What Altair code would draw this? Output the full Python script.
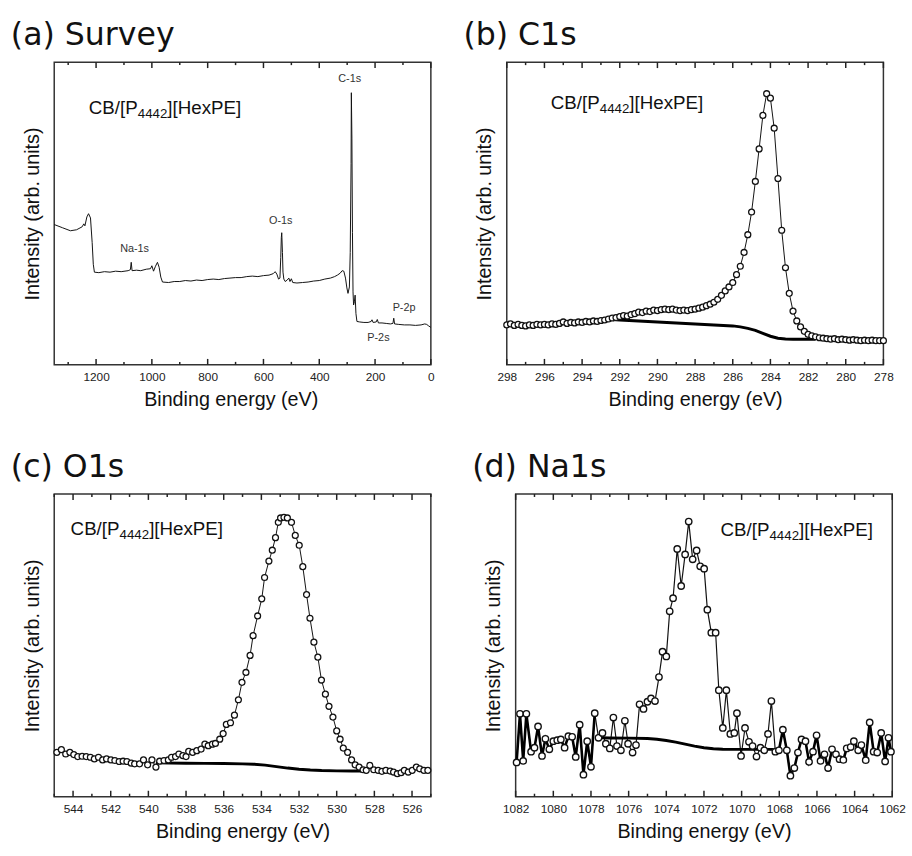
import altair as alt
import pandas as pd

# ---------------- (a) Survey ----------------
survey_energy = [1350, 1320, 1292, 1270, 1250, 1244, 1240, 1233, 1227, 1220, 1214, 1210, 1206,
                 1190, 1170, 1150, 1130, 1110, 1085, 1077, 1074, 1071, 1055, 1040, 1020, 1005,
                 1000, 994, 987, 980, 974, 968, 962, 940, 920, 900, 880, 860, 840, 820, 800,
                 780, 760, 740, 720, 700, 680, 660, 640, 620, 600, 580, 565, 558, 552, 546,
                 541, 538, 536, 534.5, 532, 530, 527, 522, 515, 509, 505, 500, 495, 480, 460,
                 440, 420, 400, 380, 360, 345, 335, 325, 318, 312, 306, 301, 297, 292, 289,
                 286, 285, 283, 281, 279, 277, 274, 271.5, 268.5, 265, 255, 240, 225, 214,
                 211, 207, 196, 192, 188, 175, 160, 145, 136, 133, 130, 115, 95, 75, 55, 35,
                 22, 15, 8, 0]
survey_intensity = [142.3, 139, 136, 137, 140, 143, 141, 150, 153.3, 149, 124, 102, 94,
                    93.5, 94.5, 94, 95, 94.5, 95.5, 96.5, 104, 95.5, 96, 95.5, 97, 97.5,
                    100.5, 95, 100, 104, 99, 89, 84, 83.5, 84.5, 84.5, 85.5, 85, 86, 85.5, 86.5,
                    87, 86.5, 87.5, 88, 88.5, 88.5, 89.5, 90, 89.5, 90.5, 91, 92.5, 94.5, 92, 87,
                    88, 109, 129, 134, 114, 94, 87, 84.5, 86, 88, 84.5, 87.3, 83.5, 83, 83.5,
                    84, 85, 85.5, 87, 88, 89.5, 91, 93, 95.5, 95, 88, 78, 72.5, 79, 114,
                    204, 276, 230, 134, 74, 60.7, 64, 70.7, 52, 44, 43.5, 43, 43, 44,
                    45.7, 43, 43.5, 46, 42.5, 42.5, 42, 41.5, 42, 47.3, 41.5, 41, 40.5, 40.5, 40, 40.5,
                    41.5, 41, 39.5, 38]
survey_peak_labels = ["C-1s", "O-1s", "Na-1s", "P-2p", "P-2s"]
survey_peak_x = [291, 538, 1062, 96, 188]
survey_peak_y = [290, 146, 117, 58, 27]

# ---------------- (b) C1s ----------------
c1s_energy = [298.0, 297.8, 297.6, 297.4, 297.2, 297.0, 296.8, 296.6, 296.4, 296.2,
              296.0, 295.8, 295.6, 295.4, 295.2, 295.0, 294.8, 294.6, 294.4, 294.2,
              294.0, 293.8, 293.6, 293.4, 293.2, 293.0, 292.8, 292.6, 292.4, 292.2,
              292.0, 291.8, 291.6, 291.4, 291.2, 291.0, 290.8, 290.6, 290.4, 290.2,
              290.0, 289.8, 289.6, 289.4, 289.2, 289.0, 288.8, 288.6, 288.4, 288.2,
              288.0, 287.8, 287.6, 287.4, 287.2, 287.0, 286.8, 286.6, 286.4, 286.2,
              286.0, 285.8, 285.6, 285.4, 285.2, 285.0, 284.8, 284.6, 284.4, 284.2,
              284.0, 283.8, 283.6, 283.4, 283.2, 283.0, 282.8, 282.6, 282.4, 282.2,
              282.0, 281.8, 281.6, 281.4, 281.2, 281.0, 280.8, 280.6, 280.4, 280.2,
              280.0, 279.8, 279.6, 279.4, 279.2, 279.0, 278.8, 278.6, 278.4, 278.2, 278.0]
c1s_intensity = [40.5, 41.5, 40.0, 41.0, 40.0, 39.5, 40.5, 40.0, 41.0, 40.5,
                 41.0, 40.5, 41.5, 41.0, 42.0, 43.5, 42.0, 43.0, 42.5, 43.5,
                 43.0, 44.0, 43.5, 44.5, 44.0, 45.0, 45.5, 46.5, 47.5, 48.0,
                 49.0, 50.0, 49.5, 51.0, 52.0, 53.5, 53.0, 54.5, 54.0, 55.5,
                 55.0, 56.0, 56.5, 56.0, 56.5, 55.5, 55.0, 55.5, 55.0, 56.0,
                 56.5, 57.5, 58.5, 60.0, 61.5, 63.5, 66.5, 70.5, 75.0, 79.0,
                 83.5, 91.5, 100.0, 114.0, 132.0, 155.0, 186.0, 219.0, 253.0, 275.0,
                 270.5, 240.0, 189.0, 136.5, 98.5, 72.5, 54.5, 44.5, 38.5, 34.0,
                 31.0, 29.5, 28.5, 27.5, 27.0, 26.5, 26.0, 26.5, 25.5, 26.0,
                 25.5, 25.0, 25.5, 25.0, 24.5, 25.0, 24.5, 25.0, 24.5, 24.5, 24.5]
c1s_bg_energy = [292.4, 292.0, 291.0, 290.0, 289.0, 288.0, 287.0, 286.0, 285.6, 285.2,
                 284.8, 284.4, 284.0, 283.6, 283.2, 282.8, 282.0, 281.6]
c1s_bg_intensity = [46.0, 45.5, 44.5, 43.5, 42.5, 41.5, 40.5, 39.5, 38.5, 37.0,
                    35.0, 32.0, 29.0, 27.0, 26.2, 26.0, 26.0, 26.0]

# ---------------- (c) O1s ----------------
o1s_energy = [544.86, 544.62, 544.39, 544.17, 543.96, 543.75, 543.52, 543.3, 543.08, 542.87,
              542.65, 542.43, 542.22, 541.99, 541.78, 541.55, 541.34, 541.14, 540.91, 540.73,
              540.47, 540.26, 540.04, 539.81, 539.6, 539.4, 539.17, 538.94, 538.77, 538.56,
              538.38, 538.17, 538.0, 537.86, 537.65, 537.43, 537.2, 537.0, 536.82, 536.6,
              536.44, 536.21, 536.03, 535.86, 535.64, 535.43, 535.22, 535.03, 534.82, 534.6,
              534.44, 534.2, 533.98, 533.83, 533.6, 533.42, 533.25, 533.1, 532.98, 532.8,
              532.62, 532.4, 532.2, 531.99, 531.8, 531.6, 531.42, 531.21, 531.0, 530.81,
              530.6, 530.41, 530.2, 530.0, 529.82, 529.65, 529.42, 529.21, 529.02, 528.81,
              528.6, 528.43, 528.24, 528.03, 527.8, 527.6, 527.39, 527.16, 526.98, 526.78,
              526.58, 526.41, 526.2, 525.99, 525.77, 525.59, 525.37, 525.16]
o1s_intensity = [45, 47.7, 43.3, 45, 42.7, 40.7, 41, 40.7, 40, 38.3,
                 40, 37.3, 38.3, 37.3, 36.7, 35.7, 36, 35.7, 34, 33.3,
                 33.3, 37.3, 32.3, 37.3, 30, 36, 36.7, 37.3, 40, 40.7,
                 43.3, 41.7, 40.7, 46, 45, 46.7, 48.3, 53.3, 51.7, 53.3,
                 54, 58.3, 64, 73.3, 75, 82.7, 98.3, 116, 126, 143.3,
                 163.3, 183.3, 200.7, 222.3, 239, 250, 262.7, 278.3, 282.7, 283.3,
                 282.7, 278.3, 265, 255, 233.3, 205, 181, 156.7, 141.5, 118.3,
                 104, 91.7, 80.7, 66.7, 58.3, 49.3, 45, 37.3, 32.3, 30,
                 27.3, 26.7, 31.7, 27.3, 26.7, 25.7, 26.7, 26, 25, 23.3,
                 24.3, 26.7, 25, 26.7, 30, 28.3, 26.7, 26.7]
o1s_bg_energy = [539.6, 538.0, 537.0, 536.0, 535.0, 534.4, 533.8, 533.2, 532.6, 532.0,
                 531.4, 530.8, 530.0, 529.2, 528.7]
o1s_bg_intensity = [34.3, 34.0, 33.8, 33.6, 33.3, 33.0, 32.0, 30.5, 29.0, 27.8,
                    27.0, 26.5, 26.2, 26.0, 26.0]

# ---------------- (d) Na1s ----------------
na1s_energy = [1081.95, 1081.77, 1081.6, 1081.43, 1081.18, 1081.0, 1080.81, 1080.6, 1080.42, 1080.21,
               1080.0, 1079.79, 1079.6, 1079.4, 1079.2, 1079.0, 1078.81, 1078.6, 1078.4, 1078.2,
               1078.0, 1077.8, 1077.6, 1077.39, 1077.21, 1077.0, 1076.81, 1076.62, 1076.41, 1076.2,
               1076.03, 1075.79, 1075.61, 1075.42, 1075.21, 1075.0, 1074.81, 1074.6, 1074.39, 1074.2,
               1074.0, 1073.82, 1073.64, 1073.42, 1073.21, 1073.0, 1072.81, 1072.6, 1072.39, 1072.2,
               1071.99, 1071.82, 1071.61, 1071.38, 1071.21, 1071.0, 1070.81, 1070.6, 1070.39, 1070.25,
               1070.03, 1069.82, 1069.61, 1069.42, 1069.21, 1069.0, 1068.8, 1068.6, 1068.42, 1068.21,
               1068.02, 1067.81, 1067.6, 1067.41, 1067.2, 1067.01, 1066.82, 1066.61, 1066.42, 1066.21,
               1066.02, 1065.81, 1065.6, 1065.41, 1065.2, 1064.99, 1064.8, 1064.6, 1064.42, 1064.21,
               1064.04, 1063.81, 1063.64, 1063.41, 1063.2, 1062.99, 1062.8, 1062.59, 1062.38, 1062.2,
               1062.07]
na1s_intensity = [34.7, 84, 36.3, 84, 45.7, 49.7, 71.3, 41.3, 58.7, 48,
                  56.3, 57.3, 58, 49.7, 61.3, 60.7, 40.3, 73, 22.3, 56.3,
                  30.3, 84.7, 59.7, 64.7, 53.7, 49, 80.3, 51.3, 47, 77,
                  53.7, 44.7, 52.3, 93.7, 89, 96.3, 99.7, 97, 121.3, 147,
                  142.3, 188, 201.3, 251.3, 213.7, 245.7, 279, 240.7, 249.7, 233.7,
                  231.3, 189.7, 166.3, 166.3, 108, 69.7, 108, 63.7, 64.7, 84.7,
                  41.3, 69.7, 55.7, 51.3, 40.7, 49.7, 47, 63.7, 97, 45.7,
                  47, 68, 47, 21.3, 29, 44.7, 58, 56.3, 35.3, 45.7,
                  62.3, 36.3, 43, 29, 48, 43, 38, 37.3, 49, 50.3,
                  56.3, 47, 52.3, 37, 75.3, 45.7, 44.7, 64.7, 35.7, 59.7,
                  45.7]
na1s_bg_energy = [1077.5, 1077.0, 1076.0, 1075.0, 1074.5, 1074.0, 1073.5, 1073.0, 1072.5, 1072.0,
                  1071.5, 1071.0, 1070.0, 1069.0, 1068.3]
na1s_bg_intensity = [59.7, 59.6, 59.4, 59.0, 58.3, 57.0, 55.3, 53.3, 51.3, 49.7,
                     48.6, 48.1, 48.0, 48.0, 48.0]

# sample label pieces: main text, subscript, main text
label_parts = ["CB/[P", "4442", "][HexPE]"]

W, H = 382, 307
YMAX = 307
LABEL_FONT = "Liberation Sans"
MAIN_FS, SUB_FS = 19, 13.5
MAJOR_LEN, MINOR_LEN = 6, 3


def tick_frame(major, minor):
    """Start/end of the inward frame ticks, expressed in y-scale units (1 unit = 1 px)."""
    rows = []
    for vals, length in [(major, MAJOR_LEN), (minor, MINOR_LEN)]:
        for v in vals:
            rows.append({"E": v, "t0": YMAX, "t1": YMAX - length})
            rows.append({"E": v, "t0": 0, "t1": length})
    return pd.DataFrame(rows)


def panel(title, dom, label_vals, minor_vals, main_layers, title_x=None):
    extra = {"titleX": title_x} if title_x is not None else {}
    xaxis = alt.Axis(orient="bottom", values=label_vals, format="d", labelOverlap=False,
                     labelFlush=False, ticks=False, domain=False, grid=False,
                     labelFontSize=12, labelFont=LABEL_FONT, labelColor="#222", labelPadding=7,
                     title="Binding energy (eV)", titleFontSize=20, titleFont=LABEL_FONT,
                     titleFontWeight="normal", titleColor="#111", titlePadding=7, **extra)
    yaxis = alt.Axis(title="Intensity (arb. units)", labels=False, ticks=False, domain=False,
                     grid=False, titleFontSize=20, titleFont=LABEL_FONT, titleFontWeight="normal",
                     titleColor="#111", titlePadding=12)
    scale = alt.Scale(domain=dom, reverse=True, nice=False, zero=False)
    yscale = alt.Scale(domain=[0, YMAX], nice=False, zero=False)
    xs = alt.X("E:Q", scale=scale, axis=xaxis)
    ys = alt.Y("I:Q", scale=yscale, axis=yaxis)
    layers = [layer.encode(x=xs, y=ys) for layer in main_layers]
    ticks = alt.Chart(tick_frame(label_vals, minor_vals)).mark_rule(
        color="#222", strokeWidth=1.5, orient="vertical").encode(
        x=alt.X("E:Q", scale=scale, axis=xaxis),
        y=alt.Y("t0:Q", scale=yscale, axis=yaxis),
        y2="t1:Q",
    )
    layers.append(ticks)
    return alt.layer(*layers).properties(
        width=W, height=H,
        title=alt.TitleParams(text=title, anchor="start", font="DejaVu Sans", fontSize=32,
                              fontWeight="normal", color="#111", offset=10, frame="bounds", dx=-12)
    )


def spectrum_layers(df, bg, size=36):
    line = alt.Chart(df).mark_line(color="#111", strokeWidth=1.0)
    pts = alt.Chart(df).mark_point(shape="circle", filled=True, fill="white", stroke="#111",
                                   strokeWidth=1.3, size=size, opacity=1)
    bgl = alt.Chart(bg).mark_line(color="#000", strokeWidth=3)
    return [line, bgl, pts]


def label_layers(x, y):
    d = pd.DataFrame({"E": [x], "I": [y]})
    w0 = 2.612 * MAIN_FS          # width of "CB/[P"
    w1 = 4 * 0.556 * SUB_FS       # width of subscript "4442"
    common = dict(align="left", baseline="alphabetic", font=LABEL_FONT, color="#111")
    return [
        alt.Chart(d).mark_text(fontSize=MAIN_FS, dy=5, text=label_parts[0], **common),
        alt.Chart(d).mark_text(fontSize=SUB_FS, dx=w0, dy=9, text=label_parts[1], **common),
        alt.Chart(d).mark_text(fontSize=MAIN_FS, dx=w0 + w1, dy=5, text=label_parts[2], **common),
    ]


# (a)
df_a = pd.DataFrame({"E": survey_energy, "I": survey_intensity})
df_a_lab = pd.DataFrame({"E": survey_peak_x, "I": survey_peak_y, "t": survey_peak_labels})
a_layers = [
    alt.Chart(df_a).mark_line(color="#111", strokeWidth=1.0),
    alt.Chart(df_a_lab).mark_text(fontSize=11, font=LABEL_FONT, color="#333").encode(text="t:N"),
] + label_layers(1226, 259)
pa = panel("(a) Survey", [0, 1350], list(range(0, 1201, 200)), list(range(100, 1301, 200)),
           a_layers, title_x=W / 2 - 12)

# (b)
df_b = pd.DataFrame({"E": c1s_energy, "I": c1s_intensity})
bg_b = pd.DataFrame({"E": c1s_bg_energy, "I": c1s_bg_intensity})
pb = panel("(b) C1s", [278, 298], list(range(278, 299, 2)), list(range(279, 298, 2)),
           spectrum_layers(df_b, bg_b) + label_layers(295.66, 264.7))

# (c)
df_c = pd.DataFrame({"E": o1s_energy, "I": o1s_intensity})
bg_c = pd.DataFrame({"E": o1s_bg_energy, "I": o1s_bg_intensity})
pc = panel("(c) O1s", [525, 545], list(range(526, 545, 2)), list(range(525, 546, 2)),
           spectrum_layers(df_c, bg_c) + label_layers(544.13, 270))

# (d)
df_d = pd.DataFrame({"E": na1s_energy, "I": na1s_intensity})
bg_d = pd.DataFrame({"E": na1s_bg_energy, "I": na1s_bg_intensity})
df_d_thick = df_d[(df_d["E"] >= 1077.8) | (df_d["E"] <= 1068.21)].copy()
df_d_thick["part"] = ["left" if e >= 1077.8 else "right" for e in df_d_thick["E"]]
d_layers = [
    alt.Chart(df_d).mark_line(color="#111", strokeWidth=1.2),
    alt.Chart(df_d_thick).mark_line(color="#000", strokeWidth=2.6).encode(detail="part:N"),
    alt.Chart(bg_d).mark_line(color="#000", strokeWidth=3),
    alt.Chart(df_d).mark_point(shape="circle", filled=True, fill="white", stroke="#111",
                               strokeWidth=1.4, size=42, opacity=1),
] + label_layers(1071.12, 269.7)
pd_ = panel("(d) Na1s", [1062, 1082], list(range(1062, 1083, 2)), list(range(1063, 1082, 2)),
            d_layers)

chart = alt.vconcat(
    alt.hconcat(pa, pb, spacing=27),
    alt.hconcat(pc, pd_, spacing=37),
    spacing=40,
).properties(
    padding={"left": 10, "top": 12, "right": 5, "bottom": 0},
    background="white",
).configure_view(stroke="#333", strokeWidth=1.5)

chart.save("out.html", embed_options={"renderer": "svg", "actions": False})
